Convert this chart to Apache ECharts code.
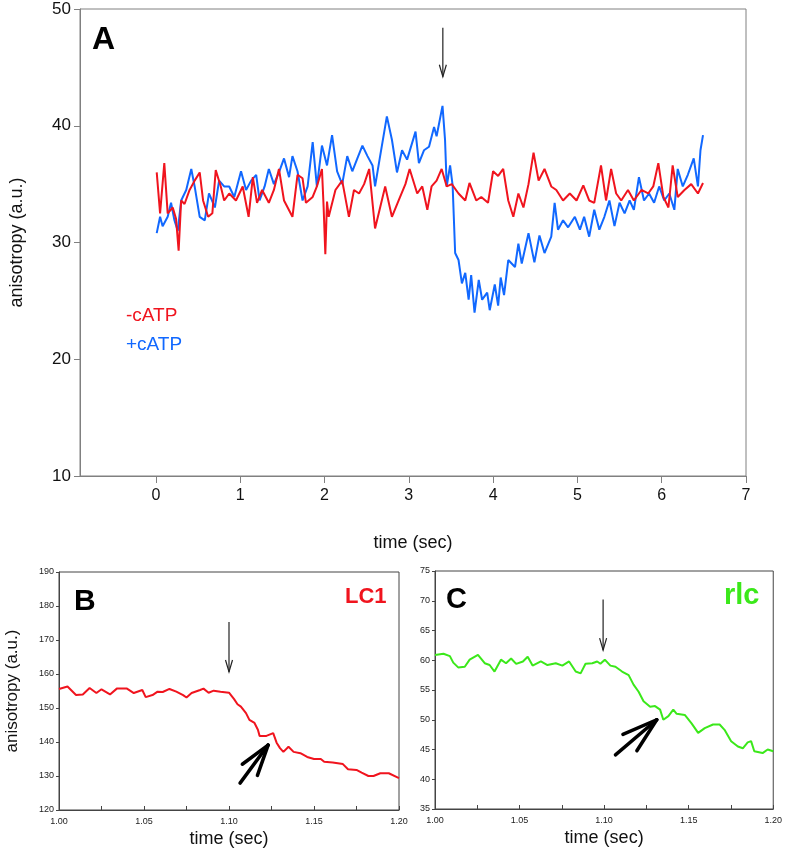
<!DOCTYPE html>
<html><head><meta charset="utf-8">
<script src="https://cdn.jsdelivr.net/npm/echarts@6/dist/echarts.min.js"></script>
<style>html,body{margin:0;padding:0;background:#fff}#c{width:785px;height:853px}</style>
</head><body><div id="c"></div>
<script>
// ---------- Panel A data ----------
const aTicksX = [0,1,2,3,4,5,6,7];
const redT = [0.01,0.05,0.10,0.14,0.20,0.24,0.27,0.30,0.34,0.40,0.46,0.52,0.56,0.62,0.67,0.71,0.77,0.81,0.87,0.95,1.03,1.10,1.15,1.20,1.26,1.34,1.40,1.46,1.52,1.62,1.68,1.74,1.78,1.86,1.91,1.97,1.99,2.01,2.03,2.05,2.13,2.21,2.29,2.35,2.41,2.47,2.53,2.60,2.66,2.72,2.80,2.88,2.96,3.01,3.10,3.16,3.22,3.27,3.33,3.39,3.45,3.51,3.59,3.67,3.72,3.80,3.86,3.94,4.00,4.06,4.12,4.18,4.24,4.30,4.36,4.42,4.48,4.54,4.61,4.69,4.75,4.83,4.91,4.99,5.07,5.14,5.20,5.28,5.34,5.40,5.46,5.52,5.60,5.67,5.76,5.84,5.90,5.96,6.02,6.08,6.13,6.19,6.27,6.35,6.43,6.49];
const redV = [36.0,32.5,36.8,32.5,33.0,32.0,29.3,33.6,33.3,34.5,35.3,36.0,33.6,32.2,32.5,36.2,34.8,33.6,34.2,33.6,34.8,32.2,35.6,33.4,34.5,33.4,34.5,36.3,33.6,32.2,35.8,35.5,33.4,33.9,34.8,36.3,33.0,29.0,33.5,32.2,34.5,35.3,32.2,34.5,34.2,35.0,36.3,31.2,33.0,34.8,32.2,33.6,35.0,36.3,34.2,34.8,32.8,34.8,35.3,36.3,34.8,35.0,34.2,33.6,35.1,33.6,33.9,33.4,36.1,35.7,36.3,33.6,32.2,34.2,33.0,35.0,37.7,35.3,36.3,34.8,34.5,33.6,34.2,33.6,34.9,33.6,33.4,36.6,33.6,36.3,34.2,33.6,34.5,33.6,34.5,34.2,34.8,36.8,33.9,33.0,36.6,33.9,34.5,35.0,34.2,35.1];
const blueT = [0.01,0.05,0.08,0.14,0.18,0.22,0.26,0.30,0.36,0.42,0.46,0.52,0.58,0.63,0.70,0.75,0.81,0.87,0.93,1.01,1.07,1.13,1.19,1.23,1.29,1.34,1.40,1.46,1.52,1.58,1.62,1.68,1.74,1.80,1.86,1.91,1.97,2.03,2.09,2.15,2.21,2.27,2.33,2.39,2.45,2.51,2.57,2.60,2.66,2.74,2.80,2.86,2.92,2.98,3.08,3.12,3.18,3.24,3.30,3.33,3.40,3.43,3.45,3.49,3.52,3.55,3.59,3.63,3.67,3.71,3.74,3.78,3.83,3.87,3.93,3.96,4.02,4.06,4.09,4.13,4.18,4.26,4.30,4.34,4.42,4.49,4.55,4.61,4.69,4.73,4.77,4.83,4.89,4.97,5.03,5.08,5.14,5.20,5.26,5.32,5.38,5.44,5.50,5.56,5.62,5.67,5.73,5.79,5.85,5.91,5.97,6.03,6.09,6.15,6.19,6.25,6.31,6.38,6.43,6.46,6.49];
const blueV = [30.8,32.2,31.4,32.2,33.4,31.9,31.0,33.6,34.5,36.3,34.8,32.2,31.9,34.2,33.0,35.3,34.8,34.8,33.9,36.1,34.5,35.3,35.8,33.6,34.8,36.3,35.0,36.0,37.2,35.6,37.4,36.1,33.6,34.8,38.6,34.8,38.3,36.6,39.2,36.1,35.0,37.4,36.1,37.2,38.3,37.4,36.6,34.8,37.4,40.8,38.8,36.0,37.9,37.1,39.5,36.8,37.9,38.2,39.9,39.1,41.7,38.8,34.8,36.6,34.9,29.1,28.5,26.5,27.4,25.1,27.2,24.0,26.8,25.1,25.7,24.2,26.4,24.6,27.0,25.5,28.5,27.9,29.9,28.2,30.8,28.3,30.6,29.1,30.5,33.4,31.1,31.9,31.3,32.2,31.1,32.2,30.5,32.8,31.1,32.2,33.6,31.4,33.4,32.5,33.6,32.8,35.6,33.6,34.2,33.4,34.8,33.6,34.2,32.8,36.3,34.8,35.8,37.2,34.8,37.9,39.2];
const arrowA = [[3.404, 48.4, 3.404, 44.2]];

// ---------- Panel B data (LC1) ----------
const bTicksX = [1.00,1.05,1.10,1.15,1.20];
const bMinorX = [1.00,1.025,1.05,1.075,1.10,1.125,1.15,1.175,1.20];
const lc1T = [1.000,1.005,1.010,1.014,1.018,1.022,1.025,1.030,1.034,1.040,1.044,1.049,1.051,1.055,1.058,1.061,1.065,1.069,1.073,1.075,1.078,1.083,1.085,1.088,1.091,1.095,1.100,1.103,1.105,1.107,1.110,1.112,1.115,1.117,1.118,1.122,1.126,1.128,1.130,1.132,1.135,1.138,1.142,1.146,1.150,1.154,1.156,1.161,1.167,1.170,1.175,1.178,1.182,1.185,1.189,1.194,1.200];
const lc1V = [155.6,156.3,153.8,154.0,155.9,154.4,155.5,154.0,155.7,155.7,154.4,155.3,153.2,153.8,154.8,154.7,155.6,154.8,153.8,153.1,154.4,155.3,155.7,154.5,155.1,154.8,154.5,152.6,151.1,150.4,148.5,146.5,145.6,143.6,141.8,141.8,142.6,139.8,138.2,137.1,138.6,137.1,136.7,135.6,135.0,135.0,134.2,134.0,133.5,132.0,131.8,131.0,130.0,130.0,130.8,130.8,129.4];
const arrowB = [[1.100, 175.3, 1.100, 160.6]];
const bigArrowB = [[1.1065, 127.9, 1.123, 139.1]];

// ---------- Panel C data (rlc) ----------
const cTicksX = [1.00,1.05,1.10,1.15,1.20];
const rlcT = [1.0000,1.0050,1.0088,1.0108,1.0137,1.0176,1.0205,1.0254,1.0294,1.0323,1.0352,1.0390,1.0420,1.0450,1.0480,1.0520,1.0548,1.0577,1.0626,1.0665,1.0714,1.0753,1.0793,1.0832,1.0861,1.0890,1.0930,1.0959,1.0978,1.1004,1.1037,1.1067,1.1106,1.1145,1.1174,1.1204,1.1233,1.1272,1.1301,1.1331,1.1350,1.1380,1.1409,1.1429,1.1477,1.1517,1.1556,1.1595,1.1644,1.1683,1.1712,1.1751,1.1791,1.1820,1.1849,1.1869,1.1888,1.1937,1.1967,1.2000];
const rlcV = [60.9,61.1,60.7,59.6,58.8,58.9,60.1,60.9,59.5,59.2,58.1,60.1,59.5,60.3,59.4,59.8,60.6,59.1,59.8,59.2,59.5,59.1,59.8,58.1,57.8,59.4,59.5,59.8,59.4,60.1,59.1,58.9,58.1,57.5,55.9,54.7,53.1,52.2,52.3,51.7,50.0,50.6,51.7,51.0,50.8,49.4,47.8,48.6,49.2,49.2,48.3,46.4,45.5,45.2,46.2,46.4,44.7,44.4,45.0,44.7];
const arrowC = [[1.0994, 70.2, 1.0994, 61.7]];
const bigArrowC = [[1.1067, 44.1, 1.1311, 50.0]];

const zip = (t, v) => t.map((x, i) => [x, v[i]]);
const FONT = 'Liberation Sans, Arial, sans-serif';
const RED = '#f0141e', BLUE = '#1168ff', GREEN = '#3be81a';

function thinArrow(params, api) {
  const p1 = api.coord([api.value(0), api.value(1)]);
  const p2 = api.coord([api.value(2), api.value(3)]);
  const dx = p2[0]-p1[0], dy = p2[1]-p1[1], L = Math.hypot(dx, dy);
  const ux = dx/L, uy = dy/L, hl = 12, hw = 3.5;
  const bx = p2[0]-ux*hl, by = p2[1]-uy*hl;
  return {type:'group', children:[
    {type:'line', shape:{x1:p1[0],y1:p1[1],x2:p2[0],y2:p2[1]}, style:{stroke:'#222', lineWidth:1.2}},
    {type:'polyline', shape:{points:[[bx-uy*hw, by+ux*hw],[p2[0],p2[1]],[bx+uy*hw, by-ux*hw]]}, style:{stroke:'#222', fill:null, lineWidth:1.2}}
  ]};
}
function bigArrow(params, api) {
  const p1 = api.coord([api.value(0), api.value(1)]);
  const p2 = api.coord([api.value(2), api.value(3)]);
  const dx = p1[0]-p2[0], dy = p1[1]-p2[1], L = Math.hypot(dx, dy);
  const ang = Math.atan2(dy, dx), a = 17*Math.PI/180, bl = 0.68*L;
  const b1 = [p2[0]+Math.cos(ang+a)*bl, p2[1]+Math.sin(ang+a)*bl];
  const b2 = [p2[0]+Math.cos(ang-a)*bl, p2[1]+Math.sin(ang-a)*bl];
  const st = {stroke:'#000', lineWidth:3.5, lineCap:'round'};
  return {type:'group', children:[
    {type:'line', shape:{x1:p1[0],y1:p1[1],x2:p2[0],y2:p2[1]}, style:st},
    {type:'line', shape:{x1:b1[0],y1:b1[1],x2:p2[0],y2:p2[1]}, style:st},
    {type:'line', shape:{x1:b2[0],y1:b2[1],x2:p2[0],y2:p2[1]}, style:st}
  ]};
}
function arrowSeries(data, idx, fn) {
  return {type:'custom', xAxisIndex:idx, yAxisIndex:idx, renderItem:fn, data:data,
    encode:{x:[0,2], y:[1,3]}, silent:true, z:10, clip:false};
}

const chart = echarts.init(document.getElementById('c'), null, {renderer:'canvas'});
const small = {fontSize:9, color:'#222', fontFamily:FONT};
chart.setOption({
  animation:false,
  backgroundColor:'#fff',
  textStyle:{fontFamily:FONT},
  grid:[
    {left:78, right:39, top:9, bottom:377, show:true, borderColor:'#808080', borderWidth:1},
    {left:59, right:386, top:572, bottom:43, show:true, borderColor:'#444', borderWidth:1},
    {left:435, right:9, top:571, bottom:44, show:true, borderColor:'#444', borderWidth:1}
  ],
  xAxis:[
    {gridIndex:0, type:'value', min:-0.9, max:7,
     axisLine:{show:true, onZero:false, lineStyle:{color:'#808080'}},
     axisTick:{show:true, customValues:aTicksX, length:7, lineStyle:{color:'#808080'}},
     axisLabel:{customValues:aTicksX, fontSize:16, color:'#111', margin:12, fontFamily:FONT},
     splitLine:{show:false},
     name:'time (sec)', nameLocation:'middle', nameGap:58, nameTextStyle:{fontSize:18, color:'#111', fontFamily:FONT}},
    {gridIndex:1, type:'value', min:1.0, max:1.2,
     axisLine:{show:true, onZero:false, lineStyle:{color:'#444'}},
     axisTick:{show:true, inside:true, customValues:bMinorX, length:4, lineStyle:{color:'#444'}},
     axisLabel:{customValues:bTicksX, formatter:v=>v.toFixed(2), margin:7, ...small},
     splitLine:{show:false},
     name:'time (sec)', nameLocation:'middle', nameGap:20, nameTextStyle:{fontSize:18, color:'#111', fontFamily:FONT}},
    {gridIndex:2, type:'value', min:1.0, max:1.2,
     axisLine:{show:true, onZero:false, lineStyle:{color:'#444'}},
     axisTick:{show:true, inside:true, customValues:bMinorX, length:4, lineStyle:{color:'#444'}},
     axisLabel:{customValues:cTicksX, formatter:v=>v.toFixed(2), margin:7, ...small},
     splitLine:{show:false},
     name:'time (sec)', nameLocation:'middle', nameGap:20, nameTextStyle:{fontSize:18, color:'#111', fontFamily:FONT}}
  ],
  yAxis:[
    {gridIndex:0, type:'value', min:10, max:50, interval:10,
     axisLine:{show:true, onZero:false, lineStyle:{color:'#808080'}},
     axisTick:{show:true, length:6, lineStyle:{color:'#808080'}},
     axisLabel:{fontSize:17, color:'#111', margin:9, fontFamily:FONT},
     splitLine:{show:false},
     name:'anisotropy (a.u.)', nameLocation:'middle', nameGap:54, nameTextStyle:{fontSize:18, color:'#111', fontFamily:FONT}},
    {gridIndex:1, type:'value', min:120, max:190, interval:10,
     axisLine:{show:true, onZero:false, lineStyle:{color:'#444'}},
     axisTick:{show:true, length:3, lineStyle:{color:'#444'}},
     axisLabel:{margin:5, ...small},
     splitLine:{show:false},
     name:'anisotropy (a.u.)', nameLocation:'middle', nameGap:38, nameTextStyle:{fontSize:17, color:'#111', fontFamily:FONT}},
    {gridIndex:2, type:'value', min:35, max:75, interval:5,
     axisLine:{show:true, onZero:false, lineStyle:{color:'#444'}},
     axisTick:{show:true, length:3, lineStyle:{color:'#444'}},
     axisLabel:{margin:5, ...small},
     splitLine:{show:false}}
  ],
  graphic:[
    {type:'text', left:92, top:24, style:{text:'A', font:'bold 32px '+FONT, fill:'#000'}},
    {type:'text', left:126, top:306, style:{text:'-cATP', font:'19px '+FONT, fill:RED}},
    {type:'text', left:126, top:335, style:{text:'+cATP', font:'19px '+FONT, fill:BLUE}},
    {type:'text', left:74, top:587, style:{text:'B', font:'bold 30px '+FONT, fill:'#000'}},
    {type:'text', left:345, top:586, style:{text:'LC1', font:'bold 22px '+FONT, fill:RED}},
    {type:'text', left:446, top:585, style:{text:'C', font:'bold 29px '+FONT, fill:'#000'}},
    {type:'text', left:724, top:581, style:{text:'rlc', font:'bold 29px '+FONT, fill:GREEN}}
  ],
  series:[
    {type:'line', name:'-cATP', xAxisIndex:0, yAxisIndex:0, data:zip(redT, redV), showSymbol:false, lineStyle:{color:RED, width:2}, z:3},
    {type:'line', name:'+cATP', xAxisIndex:0, yAxisIndex:0, data:zip(blueT, blueV), showSymbol:false, lineStyle:{color:BLUE, width:2}, z:2},
    {type:'line', name:'LC1', xAxisIndex:1, yAxisIndex:1, data:zip(lc1T, lc1V), showSymbol:false, lineStyle:{color:RED, width:2}},
    {type:'line', name:'rlc', xAxisIndex:2, yAxisIndex:2, data:zip(rlcT, rlcV), showSymbol:false, lineStyle:{color:GREEN, width:2}},
    arrowSeries(arrowA, 0, thinArrow),
    arrowSeries(arrowB, 1, thinArrow),
    arrowSeries(bigArrowB, 1, bigArrow),
    arrowSeries(arrowC, 2, thinArrow),
    arrowSeries(bigArrowC, 2, bigArrow)
  ]
});
</script></body></html>
